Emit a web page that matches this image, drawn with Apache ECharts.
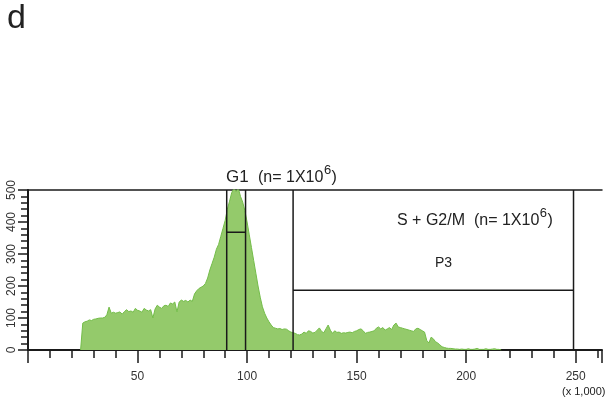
<!DOCTYPE html>
<html><head><meta charset="utf-8">
<script src="https://cdn.jsdelivr.net/npm/echarts@6/dist/echarts.min.js"></script>
<style>html,body{margin:0;padding:0;background:#fff}#c{width:605px;height:404px}</style>
</head><body><div id="c"></div>
<script>
// Histogram (channel value x1000, count)
const binX = [24,25,26,27,28,29,30,31,32,33,34,35,36,37,38,39,40,41,42,43,44,45,46,47,48,49,50,51,52,53,54,55,56,57,58,59,60,61,62,63,64,65,66,67,68,69,70,71,72,73,74,75,76,77,78,79,80,81,82,83,84,85,86,87,88,89,90,91,92,93,94,95,96,97,98,99,100,101,102,103,104,105,106,107,108,109,110,111,112,113,114,115,116,117,118,119,120,121,122,123,124,125,126,127,128,129,130,131,132,133,134,135,136,137,138,139,140,141,142,143,144,145,146,147,148,149,150,151,152,153,154,155,156,157,158,159,160,161,162,163,164,165,166,167,168,169,170,171,172,173,174,175,176,177,178,179,180,181,182,183,184,185,186,187,188,189,190,191,192,193,194,195,196,197,198,199,200,201,202,203,204,205,206,207,208,209,210,211,212,213,214,215,216,217,218,219];
const counts = [0,84,88,90,94,92,96,97,99,100,100,102,110,134,115,118,115,117,119,112,120,126,120,122,118,130,124,122,118,130,125,122,126,100,128,140,134,130,138,140,136,147,144,150,119,150,156,152,155,150,156,152,175,185,192,196,200,208,225,250,270,290,315,330,355,380,405,440,465,492,505,495,505,480,462,435,400,360,320,280,240,200,165,135,115,100,88,78,70,68,66,67,64,66,65,60,56,54,52,48,47,50,56,52,60,58,53,55,62,69,58,54,66,78,62,52,60,55,56,52,54,53,55,56,54,58,60,64,66,60,52,55,56,58,60,68,72,66,70,62,66,70,64,78,84,72,70,68,66,64,62,60,58,66,68,64,60,56,30,22,40,35,26,22,16,10,8,6,5,5,4,3,3,2,3,2,2,4,2,2,3,5,2,2,2,4,2,2,3,4,2,2,0];
const xTickLabels = [50,100,150,200,250];
const yTickLabels = [0,100,200,300,400,500];
// Gates
const g1Bounds = [90.7, 99.3];
const g1Divider = 368;
const p3Bounds = [121, 249];
const p3Divider = 187;

const histData = binX.map((x,i)=>[x,counts[i]]);
const font = 'Liberation Sans, Arial, sans-serif';
const ink = '#1a1a1a';

const mctx = document.createElement('canvas').getContext('2d');
function tw(t, size){ mctx.font = size+'px '+font; return mctx.measureText(t).width; }
// Text with a superscript exponent: base text, exponent, closing
function supText(x, baseTop, base, size, exp, expSize, tail){
  const out = [];
  out.push({type:'text', left:x, top:baseTop, style:{text:base, font:size+'px '+font, fill:'#222'}});
  const x2 = x + tw(base,size);
  out.push({type:'text', left:x2+0.5, top:baseTop - size*0.38, style:{text:exp, font:expSize+'px '+font, fill:'#222'}});
  const x3 = x2 + 0.5 + tw(exp,expSize);
  out.push({type:'text', left:x3+0.5, top:baseTop, style:{text:tail, font:size+'px '+font, fill:'#222'}});
  return out;
}

function seg(a,b){
  return {type:'line', data:[a,b], showSymbol:false, silent:true, clip:false,
    lineStyle:{color:ink, width:1.5}, z:5, animation:false};
}

const graphics = [
  {type:'text', left:7, top:2, style:{text:'d', font:'34px '+font, fill:'#222'}},
  {type:'text', left:226, top:169, style:{text:'G1', font:'17px '+font, fill:'#222'}},
  ...supText(258, 170, '(n= 1X10', 16, '6', 13, ')'),
  ...supText(397, 213, 'S + G2/M  (n= 1X10', 16, '6', 13, ')'),
  {type:'text', left:435, top:256, style:{text:'P3', font:'14px '+font, fill:'#222'}},
  {type:'text', left:236, top:256, style:{text:'P4', font:'14px '+font, fill:'#222'}},
  {type:'text', left:562, top:386, style:{text:'(x 1,000)', font:'11px '+font, fill:'#222'}}
];

const chart = echarts.init(document.getElementById('c'));
chart.setOption({
  animation:false,
  grid:{left:28, right:0, top:190, bottom:54, containLabel:false},
  xAxis:[
    {type:'value', min:0, max:262, interval:50, position:'bottom',
     axisLine:{show:true, onZero:false, lineStyle:{color:ink, width:2}},
     axisTick:{show:true, length:13, lineStyle:{color:ink, width:1.5}},
     axisLabel:{show:true, margin:21, fontFamily:font, fontSize:12, color:'#333',
       formatter:v=> xTickLabels.indexOf(v)>=0 ? String(v) : ''},
     splitLine:{show:false}},
    {type:'value', min:0, max:262, interval:10, position:'bottom',
     axisLine:{show:false, onZero:false},
     axisTick:{show:true, length:8, lineStyle:{color:ink, width:1.5}},
     axisLabel:{show:false}, splitLine:{show:false}},
    {type:'value', min:0, max:262, position:'top',
     axisLine:{show:true, onZero:false, lineStyle:{color:ink, width:1.5}},
     axisTick:{show:false}, axisLabel:{show:false}, splitLine:{show:false}}
  ],
  yAxis:[
    {type:'value', min:0, max:500, interval:100, position:'left',
     axisLine:{show:true, onZero:false, lineStyle:{color:ink, width:2}},
     axisTick:{show:true, length:10, lineStyle:{color:ink, width:1.5}},
     axisLabel:{show:true, rotate:90, margin:10, fontFamily:font, fontSize:12, color:'#333',
       formatter:v=> yTickLabels.indexOf(v)>=0 ? String(v) : ''},
     splitLine:{show:false}},
    {type:'value', min:0, max:500, interval:20, position:'left',
     axisLine:{show:false, onZero:false},
     axisTick:{show:true, length:7, lineStyle:{color:ink, width:1.5}},
     axisLabel:{show:false}, splitLine:{show:false}}
  ],
  series:[
    {type:'line', data:histData, showSymbol:false, clip:true, silent:true,
     lineStyle:{color:'#74bd4a', width:1}, areaStyle:{color:'#94ca6b', opacity:1}, z:2},
    seg([g1Bounds[0],0],[g1Bounds[0],500]),
    seg([g1Bounds[1],0],[g1Bounds[1],500]),
    seg([g1Bounds[0],g1Divider],[g1Bounds[1],g1Divider]),
    seg([p3Bounds[0],0],[p3Bounds[0],500]),
    seg([p3Bounds[1],0],[p3Bounds[1],500]),
    seg([p3Bounds[0],p3Divider],[p3Bounds[1],p3Divider])
  ],
  graphic: graphics
});
</script></body></html>
